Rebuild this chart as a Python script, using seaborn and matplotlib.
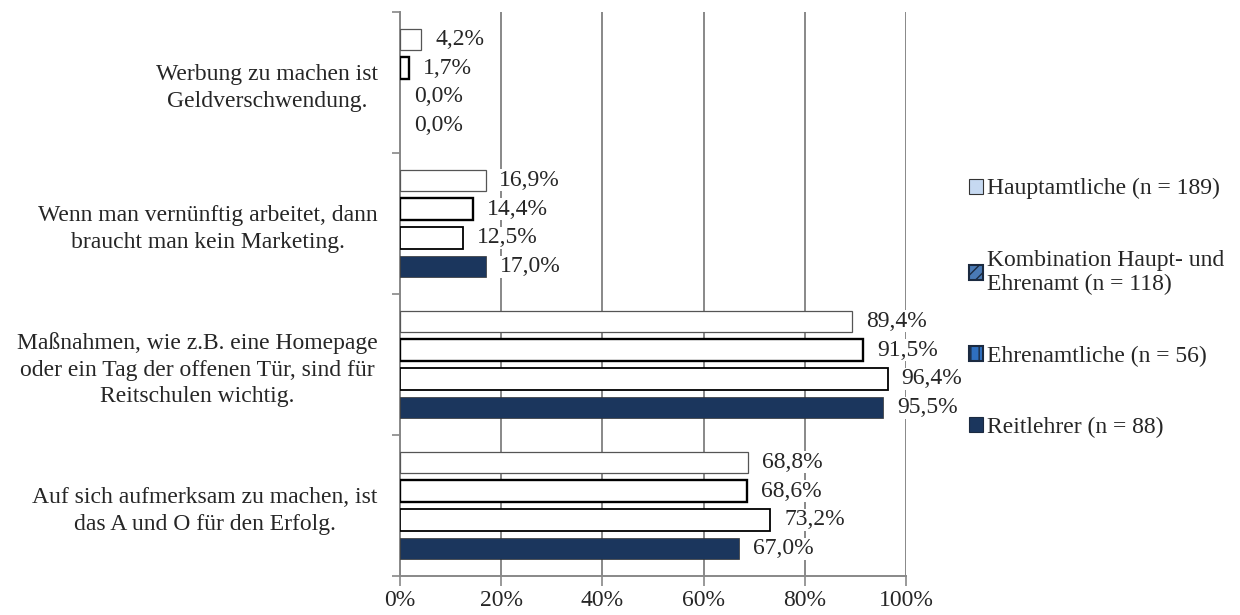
import pandas as pd
import matplotlib.pyplot as plt
import seaborn as sns
from matplotlib.patches import Patch


# statements (top to bottom) and groups (hue order, top to bottom in each block)
statements = [
    "Werbung zu machen ist\nGeldverschwendung.",
    "Wenn man vernünftig arbeitet, dann\nbraucht man kein Marketing.",
    "Maßnahmen, wie z.B. eine Homepage\noder ein Tag der offenen Tür, sind für\nReitschulen wichtig.",
    "Auf sich aufmerksam zu machen, ist\ndas A und O für den Erfolg.",
]
groups = [
    "Hauptamtliche (n = 189)",
    "Kombination Haupt- und\nEhrenamt (n = 118)",
    "Ehrenamtliche (n = 56)",
    "Reitlehrer (n = 88)",
]
hauptamtliche = [4.2, 16.9, 89.4, 68.8]
kombination = [1.7, 14.4, 91.5, 68.6]
ehrenamtliche = [0.0, 12.5, 96.4, 73.2]
reitlehrer = [0.0, 17.0, 95.5, 67.0]

rows = []
for grp, vals in zip(groups, [hauptamtliche, kombination, ehrenamtliche, reitlehrer]):
    for st, v in zip(statements, vals):
        rows.append([st, grp, v])
df = pd.DataFrame(rows, columns=['statement', 'group', 'value'])

sns.set_style('white')
plt.rcParams['font.family'] = ['Liberation Serif', 'DejaVu Serif']
fs = 17

bar_fill = ['white', 'white', 'white', '#1b365d']
bar_edge = ['#555555', 'black', 'black', '#333333']
bar_lw = [0.9, 1.7, 1.3, 0.5]

fig = plt.figure(figsize=(12.4, 6.15), dpi=100)
ax = fig.add_axes([400 / 1240, 39 / 615, 506 / 1240, 564 / 615])

sns.barplot(data=df, x='value', y='statement', hue='group', order=statements,
            hue_order=groups, palette=dict(zip(groups, bar_fill)),
            width=0.82, gap=0.27, ax=ax, legend=False, zorder=3)

for i, cont in enumerate(ax.containers):
    for p, v in zip(cont, cont.datavalues):
        p.set_facecolor(bar_fill[i])
        p.set_edgecolor(bar_edge[i])
        p.set_linewidth(bar_lw[i] if v > 0 else 0)
    labels = [f"{v:.1f}%".replace('.', ',') for v in cont.datavalues]
    txts = ax.bar_label(cont, labels=labels, padding=10, fontsize=fs, zorder=4)
    for t in txts:
        t.set_bbox(dict(facecolor='white', edgecolor='none', pad=0.5))

ax.set_xlim(0, 100)
ax.set_ylim(3.5, -0.5)
ax.set_xticks(range(0, 101, 20))
ax.set_xticklabels([f"{x}%" for x in range(0, 101, 20)], fontsize=fs)
ax.xaxis.grid(True, color='#888888', linewidth=1.4, zorder=0)
ax.set_axisbelow(True)

# category boundaries carry the ticks, labels sit in the middle
ax.set_yticks([-0.5, 0.5, 1.5, 2.5, 3.5])
ax.set_yticklabels([])
ax.set_yticks(range(len(statements)), minor=True)
ax.set_yticklabels(statements, minor=True, fontsize=fs, multialignment='center',
                   linespacing=1.35)
ax.tick_params(axis='y', which='major', length=6, color='#888888', width=1.2, direction='out', left=True)
ax.tick_params(axis='y', which='minor', length=0, pad=16)
ax.tick_params(axis='x', length=7, color='#888888', width=1.2, direction='out', bottom=True, pad=3)
ax.set_xlabel('')
ax.set_ylabel('')

for side in ['top', 'right']:
    ax.spines[side].set_visible(False)
for side in ['left', 'bottom']:
    ax.spines[side].set_color('#888888')
    ax.spines[side].set_linewidth(1.4)

handles = [
    Patch(facecolor='#c6d9f1', edgecolor='#333333', linewidth=0.8),
    Patch(facecolor='#4a7ab5', edgecolor='#1b2a40', linewidth=1.5, hatch='///'),
    Patch(facecolor='#2f6fbf', edgecolor='#1b2a40', linewidth=1.5, hatch='||'),
    Patch(facecolor='#1b365d', edgecolor='#1b2a40', linewidth=0.8),
]
fig.legend(handles, groups, loc='center left', bbox_to_anchor=(969 / 1240, 0.499),
           frameon=False, fontsize=fs, handlelength=0.6, handleheight=0.6,
           handletextpad=0.15, labelspacing=2.13, borderpad=0, borderaxespad=0)

plt.savefig('out.png', dpi=100)
plt.close()
